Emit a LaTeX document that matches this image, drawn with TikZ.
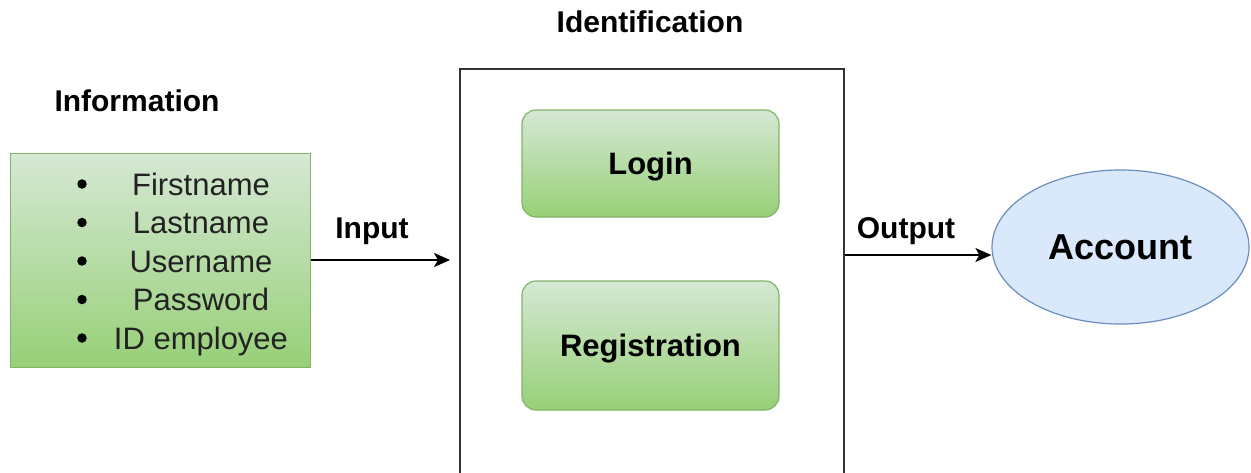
\documentclass[tikz,border=0pt]{standalone}
\usepackage{fontspec}
\setmainfont{Liberation Sans}
\usetikzlibrary{arrows.meta,shapes.geometric}
\definecolor{gtop}{HTML}{D5E8D4}
\definecolor{gbot}{HTML}{97D077}
\definecolor{gline}{HTML}{82B366}
\definecolor{bfill}{HTML}{DAE8FC}
\definecolor{bline}{HTML}{6C8EBF}
\definecolor{dline}{HTML}{333333}
\definecolor{txt}{HTML}{222222}
\tikzset{
  greenbox/.style={draw=gline,line width=1.2pt,top color=gtop,bottom color=gbot},
  lbl/.style={font=\fontsize{30}{36}\selectfont\bfseries,inner sep=0pt,text depth=0pt},
  item/.style={font=\fontsize{31}{36}\selectfont,inner sep=0pt,anchor=base,text=txt},
  bul/.style={circle,fill=black,inner sep=0pt,minimum size=9.5pt},
  inner/.style={greenbox,rectangle,rounded corners=14pt,minimum width=257pt,inner sep=0pt,text depth=0pt,font=\fontsize{31}{36}\selectfont\bfseries},
  conn/.style={line width=2pt,-{Stealth[length=16pt,width=14pt,inset=4pt]}}
}
\begin{document}
\begin{tikzpicture}[x=1pt,y=-1pt]
\useasboundingbox (0,0) rectangle (1251,472);
\clip (0,0) rectangle (1251,472);
\fill[white] (0,0) rectangle (1251,472);
% information box
\node[greenbox,rectangle,minimum width=300pt,minimum height=214pt,anchor=north west,inner sep=0pt] (info) at (10,153) {};
\node[lbl] (infolbl) at (137,101) {Information};
\foreach \t/\y [count=\i] in {Firstname/184,Lastname/222.5,Username/261,Password/299.5,ID employee/338}{
  \node[bul] (b\i) at (82,\y) {};
  \node[item] (t\i) at (201,\y+11) {\t};
}
% identification box
\node[draw=dline,line width=1.6pt,rectangle,minimum width=384pt,minimum height=440pt,anchor=north west,inner sep=0pt] (ident) at (459,68) {};
\node[lbl] (identlbl) at (650,22) {Identification};
\node[inner,minimum height=107pt] (login) at (650.5,163.5) {Login};
\node[inner,minimum height=129pt] (reg) at (650.5,345.5) {Registration};
% account
\node[ellipse,draw=bline,fill=bfill,line width=1.2pt,minimum width=257pt,minimum height=154pt,inner sep=0pt,font=\fontsize{36}{40}\selectfont\bfseries] (acc) at (1120.5,247) {Account};
% connectors
\coordinate (inend) at (450,260);
\draw[conn] (info.east |- inend) -- (inend);
\node[lbl] (inlbl) at (372,228) {Input};
\draw[conn] (ident.east |- acc.center) ++(0,8) coordinate (outstart) -- (acc.west |- outstart);
\node[lbl] (outlbl) at (906,228) {Output};
\end{tikzpicture}
\end{document}
